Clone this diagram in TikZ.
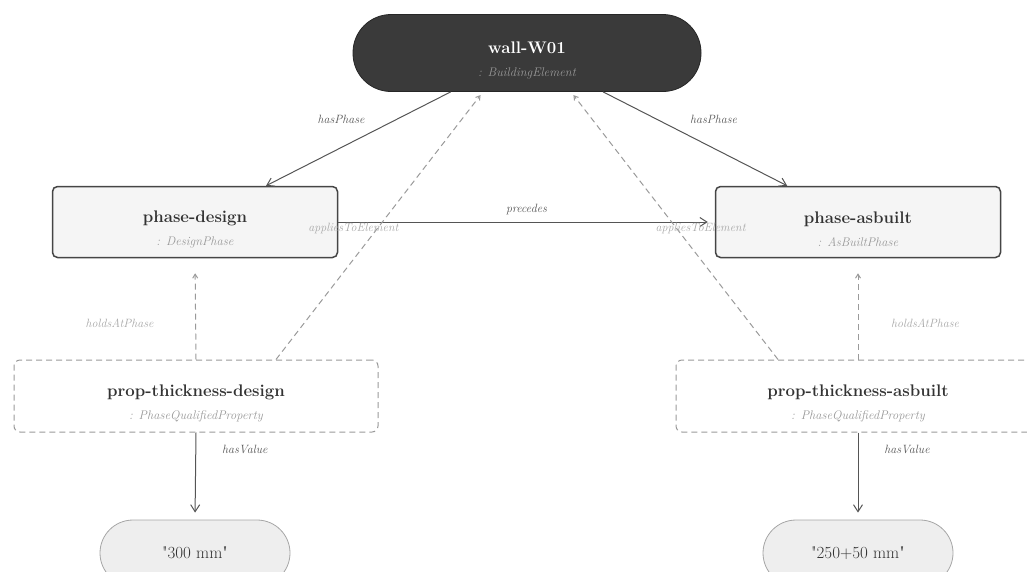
\documentclass[tikz,border=0pt]{standalone}
\usetikzlibrary{arrows.meta}

\definecolor{darkfill}{HTML}{3A3A3A}
\definecolor{boxline}{HTML}{454545}
\definecolor{boxfill}{HTML}{F5F5F5}
\definecolor{valfill}{HTML}{EEEEEE}
\definecolor{dashline}{HTML}{9A9A9A}
\definecolor{edgeline}{HTML}{555555}
\definecolor{typegrey}{HTML}{999999}
\definecolor{faintlabel}{HTML}{A8A8A8}

% name on the centre line, class below it
\newcommand{\instname}[2]{\rule{0pt}{26pt}{\fontsize{16.8}{20}\selectfont\bfseries #1}\\[8pt]{\itshape\color{typegrey}: #2}}

\begin{document}
\begin{tikzpicture}[x=1pt,y=-1pt,
    element/.style={draw=black!85, fill=darkfill, text=white, rounded corners=38pt,
        minimum width=348pt, minimum height=77pt, align=center, line width=0.8pt,
        font=\fontsize{12.5}{15}\selectfont},
    phasebox/.style={draw=boxline, fill=boxfill, text=black!80, rounded corners=5pt,
        minimum width=285pt, minimum height=71pt, align=center, line width=1.5pt,
        font=\fontsize{12.5}{15}\selectfont},
    propbox/.style={draw=dashline, dashed, dash pattern=on 6pt off 4pt, fill=white,
        text=black!80, rounded corners=6pt, minimum width=364pt, minimum height=72pt,
        align=center, line width=1pt, font=\fontsize{12.5}{15}\selectfont},
    literal/.style={draw=black!35, fill=valfill, text=black!80, rounded corners=33pt,
        minimum width=190pt, minimum height=66pt, font=\fontsize{17}{20}\selectfont,
        line width=0.8pt},
    rel/.style={draw=edgeline, line width=1pt, -{Straight Barb[length=7pt,width=9pt]}},
    weakrel/.style={draw=dashline, line width=1pt, dashed, dash pattern=on 6pt off 4pt,
        -{Straight Barb[length=4pt,width=5pt]}},
    rellabel/.style={font=\fontsize{12}{14}\selectfont\itshape, text=edgeline},
    weaklabel/.style={font=\fontsize{12}{14}\selectfont\itshape, text=faintlabel}]

    % Canvas (the reference is cut at the right and bottom edge)
    \clip (0,0) rectangle (1027,571);

    % The building element
    \node[element] (wall) at (527,53) {\instname{wall-W01}{BuildingElement}};

    % The two phases
    \node[phasebox] (phaseDesign) at (195,222) {\instname{phase-design}{DesignPhase}};
    \node[phasebox] (phaseAsbuilt) at (858,222) {\instname{phase-asbuilt}{AsBuiltPhase}};

    % Phase qualified properties
    \node[propbox] (propDesign) at (196,396) {\instname{prop-thickness-design}{PhaseQualifiedProperty}};
    \node[propbox] (propAsbuilt) at (858,396) {\instname{prop-thickness-asbuilt}{PhaseQualifiedProperty}};

    % Literal values
    \node[literal] (valDesign) at (195,553) {\textquotedbl300 mm\textquotedbl};
    \node[literal] (valAsbuilt) at (858,553) {\textquotedbl250+50 mm\textquotedbl};

    % Element to phases
    \draw[rel] (wall) -- (phaseDesign)
        node[rellabel, pos=0.29, xshift=-56pt] {hasPhase};
    \draw[rel] (wall) -- (phaseAsbuilt)
        node[rellabel, pos=0.29, xshift=57pt] {hasPhase};

    % Phase order
    \draw[rel, shorten >=7pt] (phaseDesign) -- (phaseAsbuilt)
        node[rellabel, midway, above, yshift=3pt] {precedes};

    % Properties back to the element
    \draw[weakrel, shorten >=4pt] ([xshift=80pt]propDesign.north) -- ([xshift=-44pt]wall.south)
        node[weaklabel, pos=0.49, xshift=-24pt] {appliesToElement};
    \draw[weakrel, shorten >=4pt] ([xshift=-80pt]propAsbuilt.north) -- ([xshift=44pt]wall.south)
        node[weaklabel, pos=0.49, xshift=24pt] {appliesToElement};

    % Properties to phases
    \draw[weakrel, shorten >=15pt] (propDesign.north) -- (phaseDesign.south)
        node[weaklabel, pos=0.36, xshift=-76pt] {holdsAtPhase};
    \draw[weakrel, shorten >=15pt] (propAsbuilt.north) -- (phaseAsbuilt.south)
        node[weaklabel, pos=0.36, xshift=67pt] {holdsAtPhase};

    % Properties to values
    \draw[rel, shorten >=7pt] (propDesign.south) -- (valDesign.north)
        node[rellabel, pos=0.2, xshift=49pt] {hasValue};
    \draw[rel, shorten >=7pt] (propAsbuilt.south) -- (valAsbuilt.north)
        node[rellabel, pos=0.2, xshift=49pt] {hasValue};

\end{tikzpicture}
\end{document}
